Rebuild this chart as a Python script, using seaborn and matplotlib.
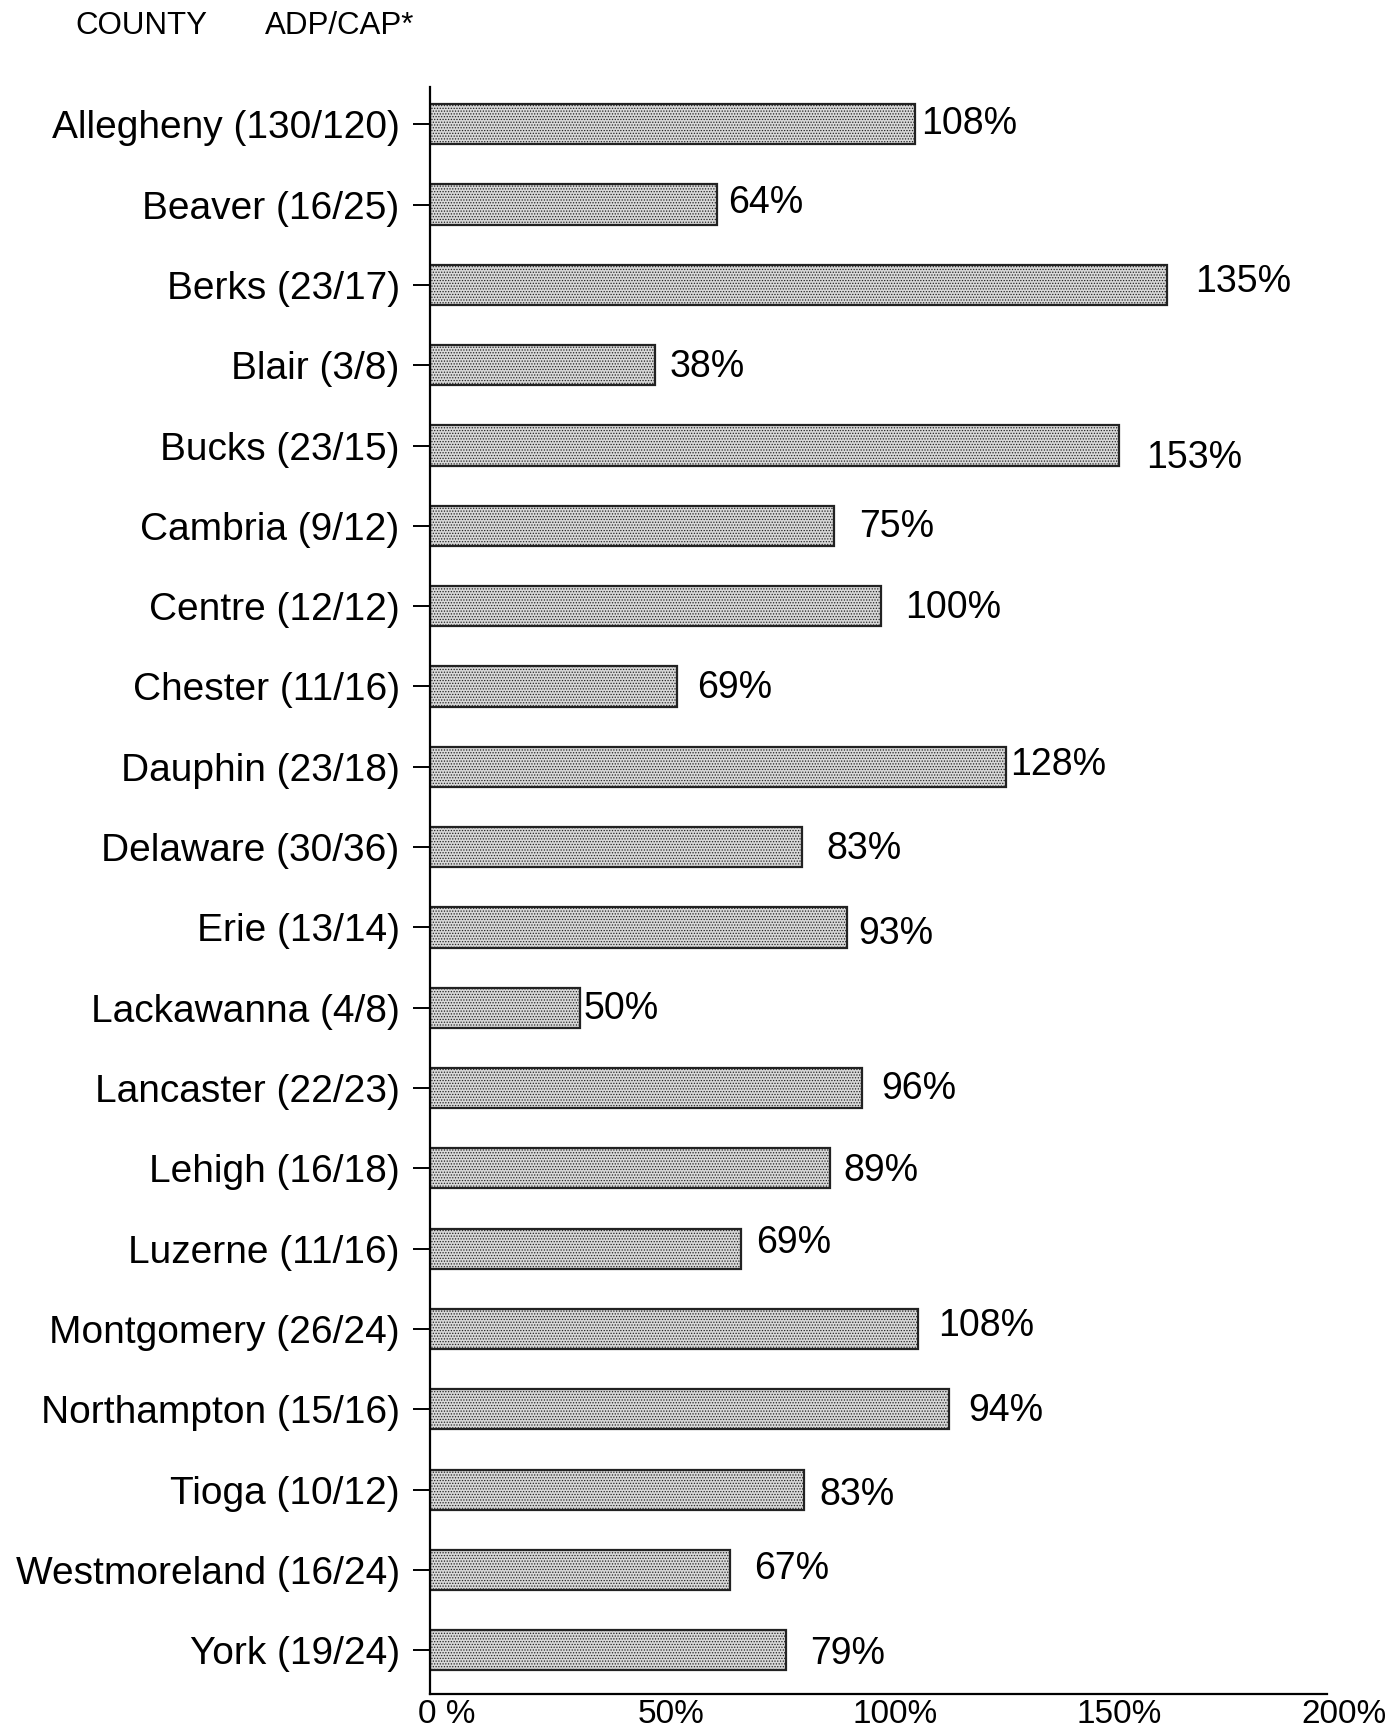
import matplotlib
matplotlib.use("Agg")
import matplotlib.pyplot as plt
import matplotlib.transforms as mtransforms
import seaborn as sns
import pandas as pd

counties = ["Allegheny (130/120)", "Beaver (16/25)", "Berks (23/17)", "Blair (3/8)",
            "Bucks (23/15)", "Cambria (9/12)", "Centre (12/12)", "Chester (11/16)",
            "Dauphin (23/18)", "Delaware (30/36)", "Erie (13/14)", "Lackawanna (4/8)",
            "Lancaster (22/23)", "Lehigh (16/18)", "Luzerne (11/16)", "Montgomery (26/24)",
            "Northampton (15/16)", "Tioga (10/12)", "Westmoreland (16/24)", "York (19/24)"]
# bar lengths as drawn in the reference (percent)
bar_values = [108.2, 64.0, 164.3, 50.2, 153.5, 90.0, 100.6, 55.1, 128.4, 83.0,
              93.0, 33.5, 96.2, 89.1, 69.2, 108.7, 115.6, 83.4, 66.9, 79.4]
# printed labels
value_labels = ["108%", "64%", "135%", "38%", "153%", "75%", "100%", "69%", "128%", "83%",
                "93%", "50%", "96%", "89%", "69%", "108%", "94%", "83%", "67%", "79%"]
x_ticks = [0, 50, 100, 150, 200]
x_tick_labels = ["0 %", "50%", "100%", "150%", "200%"]

# label offsets from bar end (points): style only
label_dx = [4, 8, 20, 10, 20, 18, 17, 14, 3, 17, 8, 2, 14, 10, 11, 15, 14, 11, 17, 17]
label_dy = [0, 1, 2, -1, -9, -1, -1, -1, 1, -1, -5, -1, -1, -2, 4, 2, -1, -4, 1, -3]

sns.set_theme(style="white")
plt.rcParams['font.family'] = ['Liberation Sans', 'DejaVu Sans']
plt.rcParams['hatch.linewidth'] = 0.6

df = pd.DataFrame({"county": counties, "value": bar_values})

fig = plt.figure(figsize=(14, 17.3), dpi=100)
ax = fig.add_axes([0.3073, 0.021, 0.948 - 0.3073, 0.950 - 0.021])

sns.barplot(data=df, x="value", y="county", orient="h", color="#d8d8d8",
            edgecolor="black", linewidth=1.6, width=0.5, ax=ax, saturation=1)
for p in ax.patches:
    p.set_hatch("......")
    p.set_edgecolor("#222222")

ax.set_xlim(0, 200)
ax.set_ylim(19.54, -0.47)
ax.set_xlabel("")
ax.set_ylabel("")

for sp in ["top", "right"]:
    ax.spines[sp].set_visible(False)
for sp in ["left", "bottom"]:
    ax.spines[sp].set_color("black")
    ax.spines[sp].set_linewidth(1.6)

ax.tick_params(axis="y", which="major", left=True, length=12, width=1.4,
               color="black", pad=10, labelsize=28, labelcolor="black")
ax.set_xticks(x_ticks)
ax.set_xticklabels(x_tick_labels)
ax.tick_params(axis="x", which="major", bottom=False, length=0, pad=4,
               labelsize=24, labelcolor="black")
offset = mtransforms.ScaledTranslation(12 / 72, 0, fig.dpi_scale_trans)
for lbl in ax.get_xticklabels():
    lbl.set_transform(lbl.get_transform() + offset)

for i, (v, t) in enumerate(zip(bar_values, value_labels)):
    ax.annotate(t, xy=(v, i), xytext=(label_dx[i], label_dy[i]),
                textcoords="offset points", ha="left", va="center",
                fontsize=27, color="black")

fig.text(0.0536, 0.985, "COUNTY", fontsize=22.5, va="center", ha="left", color="black")
fig.text(0.189, 0.985, "ADP/CAP*", fontsize=22.5, va="center", ha="left", color="black")

fig.savefig("out.png", dpi=100, facecolor="white")
